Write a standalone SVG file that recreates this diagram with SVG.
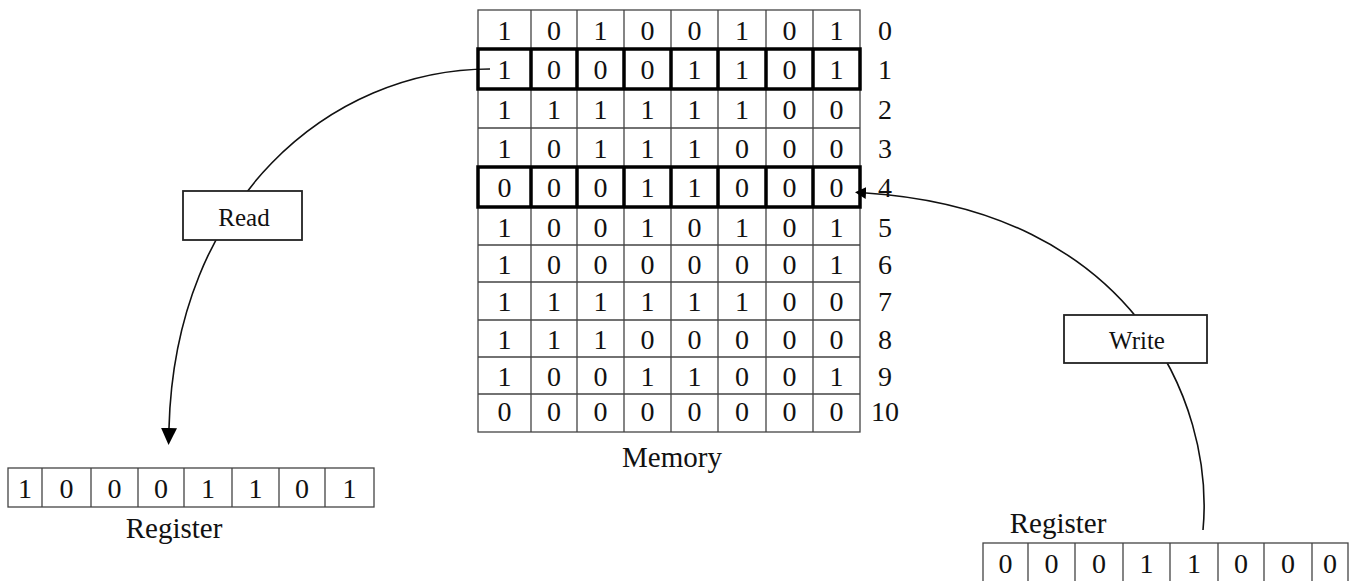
<svg xmlns="http://www.w3.org/2000/svg" width="1354" height="581" viewBox="0 0 1354 581">
<defs>
<style>
text{font-family:"Liberation Serif","Times New Roman",serif;fill:#111;text-anchor:middle}
.d{font-size:28px}
.lbl{font-size:29px}
.bx{font-size:25px}
.thin{fill:none;stroke:#444;stroke-width:1.3}
.thick{fill:none;stroke:#000;stroke-width:3.5}
.conn{fill:none;stroke:#111;stroke-width:1.6}
.box{fill:#fff;stroke:#222;stroke-width:1.8}
</style>
<marker id="ahBig" markerUnits="userSpaceOnUse" markerWidth="18" markerHeight="16" refX="0" refY="8" orient="auto"><path d="M0,0 L17,8 L0,16 z" fill="#000"/></marker>
<marker id="ahSmall" markerUnits="userSpaceOnUse" markerWidth="12" markerHeight="12" refX="0" refY="6" orient="auto"><path d="M0,0 L11,6 L0,12 z" fill="#000"/></marker>
</defs>
<rect width="1354" height="581" fill="#fff"/>

<g id="connectors">
<path class="conn" d="M490 69 C330 69 175 200 169 428" marker-end="url(#ahBig)"/>
<path class="conn" d="M1203 530 C1215 400 1130 210 866 193" marker-end="url(#ahSmall)"/>
</g>

<g id="memory">
<g class="thin">
<rect x="478" y="10" width="382" height="422"/>
<path d="M531 10V432M577 10V432M624 10V432M671 10V432M718 10V432M766 10V432M813 10V432"/>
<path d="M478 49H860M478 89H860M478 128H860M478 167H860M478 207H860M478 245H860M478 282H860M478 320H860M478 357H860M478 394H860"/>
</g>
<g class="thick">
<rect x="478" y="49" width="382" height="40"/>
<path d="M531 49V89M577 49V89M624 49V89M671 49V89M718 49V89M766 49V89M813 49V89"/>
<rect x="478" y="167" width="382" height="40"/>
<path d="M531 167V207M577 167V207M624 167V207M671 167V207M718 167V207M766 167V207M813 167V207"/>
</g>
<g class="d">
<text x="504.5" y="40">1</text><text x="554" y="40">0</text><text x="600.5" y="40">1</text><text x="647.5" y="40">0</text><text x="694.5" y="40">0</text><text x="742" y="40">1</text><text x="789.5" y="40">0</text><text x="836.5" y="40">1</text>
<text x="504.5" y="79">1</text><text x="554" y="79">0</text><text x="600.5" y="79">0</text><text x="647.5" y="79">0</text><text x="694.5" y="79">1</text><text x="742" y="79">1</text><text x="789.5" y="79">0</text><text x="836.5" y="79">1</text>
<text x="504.5" y="119">1</text><text x="554" y="119">1</text><text x="600.5" y="119">1</text><text x="647.5" y="119">1</text><text x="694.5" y="119">1</text><text x="742" y="119">1</text><text x="789.5" y="119">0</text><text x="836.5" y="119">0</text>
<text x="504.5" y="158">1</text><text x="554" y="158">0</text><text x="600.5" y="158">1</text><text x="647.5" y="158">1</text><text x="694.5" y="158">1</text><text x="742" y="158">0</text><text x="789.5" y="158">0</text><text x="836.5" y="158">0</text>
<text x="504.5" y="197">0</text><text x="554" y="197">0</text><text x="600.5" y="197">0</text><text x="647.5" y="197">1</text><text x="694.5" y="197">1</text><text x="742" y="197">0</text><text x="789.5" y="197">0</text><text x="836.5" y="197">0</text>
<text x="504.5" y="237">1</text><text x="554" y="237">0</text><text x="600.5" y="237">0</text><text x="647.5" y="237">1</text><text x="694.5" y="237">0</text><text x="742" y="237">1</text><text x="789.5" y="237">0</text><text x="836.5" y="237">1</text>
<text x="504.5" y="274">1</text><text x="554" y="274">0</text><text x="600.5" y="274">0</text><text x="647.5" y="274">0</text><text x="694.5" y="274">0</text><text x="742" y="274">0</text><text x="789.5" y="274">0</text><text x="836.5" y="274">1</text>
<text x="504.5" y="311">1</text><text x="554" y="311">1</text><text x="600.5" y="311">1</text><text x="647.5" y="311">1</text><text x="694.5" y="311">1</text><text x="742" y="311">1</text><text x="789.5" y="311">0</text><text x="836.5" y="311">0</text>
<text x="504.5" y="349">1</text><text x="554" y="349">1</text><text x="600.5" y="349">1</text><text x="647.5" y="349">0</text><text x="694.5" y="349">0</text><text x="742" y="349">0</text><text x="789.5" y="349">0</text><text x="836.5" y="349">0</text>
<text x="504.5" y="386">1</text><text x="554" y="386">0</text><text x="600.5" y="386">0</text><text x="647.5" y="386">1</text><text x="694.5" y="386">1</text><text x="742" y="386">0</text><text x="789.5" y="386">0</text><text x="836.5" y="386">1</text>
<text x="504.5" y="421">0</text><text x="554" y="421">0</text><text x="600.5" y="421">0</text><text x="647.5" y="421">0</text><text x="694.5" y="421">0</text><text x="742" y="421">0</text><text x="789.5" y="421">0</text><text x="836.5" y="421">0</text>
</g>
<g class="d">
<text x="885" y="40">0</text><text x="885" y="79">1</text><text x="885" y="119">2</text><text x="885" y="158">3</text><text x="885" y="197">4</text><text x="885" y="237">5</text><text x="885" y="274">6</text><text x="885" y="311">7</text><text x="885" y="349">8</text><text x="885" y="386">9</text><text x="885" y="421">10</text>
</g>
<text class="lbl" x="672" y="467">Memory</text>
</g>

<g id="read-label">
<rect class="box" x="183" y="191" width="119" height="49"/>
<text class="bx" x="244" y="226">Read</text>
</g>

<g id="write-label">
<rect class="box" x="1064" y="315" width="143" height="48"/>
<text class="bx" x="1137" y="349">Write</text>
</g>

<g id="register-left">
<g class="thin">
<rect x="8" y="468" width="366" height="39"/>
<path d="M42 468V507M91 468V507M138 468V507M184 468V507M232 468V507M279 468V507M325 468V507"/>
</g>
<g class="d">
<text x="25" y="498">1</text><text x="66.5" y="498">0</text><text x="114.5" y="498">0</text><text x="161" y="498">0</text><text x="208" y="498">1</text><text x="255.5" y="498">1</text><text x="302" y="498">0</text><text x="349.5" y="498">1</text>
</g>
<text class="lbl" x="174" y="538">Register</text>
</g>

<g id="register-right">
<g class="thin">
<rect x="983" y="543" width="365" height="40"/>
<path d="M1028 543V583M1075 543V583M1123 543V583M1170 543V583M1218 543V583M1264 543V583M1312 543V583"/>
</g>
<g class="d">
<text x="1005.5" y="573">0</text><text x="1051.5" y="573">0</text><text x="1099" y="573">0</text><text x="1146.5" y="573">1</text><text x="1194" y="573">1</text><text x="1241" y="573">0</text><text x="1288" y="573">0</text><text x="1330" y="573">0</text>
</g>
<text class="lbl" x="1058" y="533">Register</text>
</g>
</svg>
